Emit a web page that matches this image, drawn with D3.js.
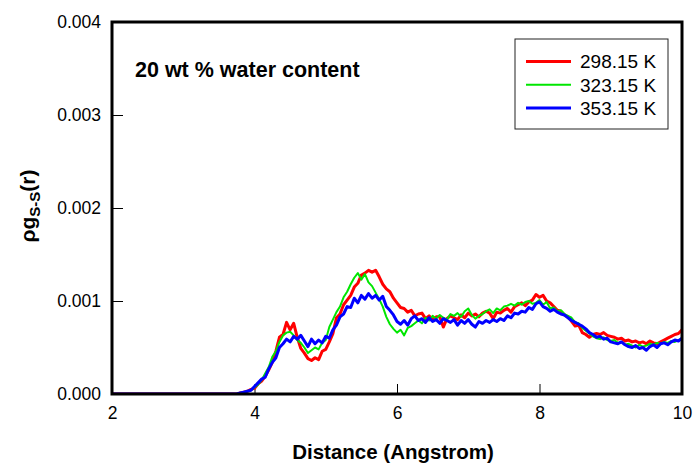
<!DOCTYPE html>
<html>
<head>
<meta charset="utf-8">
<script src="https://cdn.jsdelivr.net/npm/d3@7"></script>
<style>
  body { margin: 0; background: #fff; }
  svg { font-family: "Liberation Sans", Arial, sans-serif; }
</style>
</head>
<body>
<div class="chart"></div>
<script>
// DATA ------------------------------------
// g values are given in units of 1e-4 (i.e. 6.1 -> 0.00061)
const unit = 1e-4;
// sample positions: r = 2 (start of flat zero part), then 3.75 ... 10 every 0.05
const rValues = [2].concat(d3.range(0, 126).map(i => +(3.75 + i * 0.05).toFixed(2)));

const temps = ["298.15 K", "323.15 K", "353.15 K"];
const colors = ["#ff0000", "#00e600", "#0000ff"];
const widths = [3, 2, 3];

const g298 = [0,
  0, 0.1, 0.2, 0.3, 0.5, 0.6, 1.1, 1.4, 1.9, 2.6,
  3.4, 4.6, 6.1, 6.4, 7.7, 6.9, 7.6, 6.1, 4.9, 4.4,
  3.8, 3.6, 3.9, 3.7, 4.6, 4.8, 5.6, 6.5, 8.2, 8.6,
  9.6, 10.1, 10.6, 11.5, 11.9, 12.8, 13.0, 13.3, 13.1, 13.3,
  12.6, 11.8, 11.3, 11.0, 10.3, 9.8, 9.3, 9.2, 8.8, 9.0,
  8.4, 8.6, 8.7, 8.1, 8.4, 8.0, 8.3, 8.3, 7.2, 8.1,
  8.4, 8.2, 8.0, 8.5, 8.2, 8.7, 8.4, 8.6, 8.3, 8.7,
  8.9, 8.7, 8.1, 8.8, 8.7, 9.0, 9.2, 8.8, 9.4, 9.6,
  9.8, 9.5, 9.9, 10.1, 10.7, 10.4, 10.6, 10.0, 9.8, 9.4,
  9.0, 8.9, 8.5, 8.3, 7.8, 7.3, 7.4, 6.6, 6.4, 6.1,
  6.4, 6.5, 6.4, 6.6, 6.3, 6.2, 6.1, 5.9, 6.0, 5.7,
  5.8, 5.6, 5.7, 5.5, 5.6, 5.4, 5.7, 5.5, 5.4, 5.6,
  5.8, 6.0, 6.2, 6.4, 6.5, 6.9];

const g323 = [0,
  0, 0.1, 0.2, 0.3, 0.4, 0.7, 1.0, 1.5, 2.2, 2.9,
  4.0, 4.6, 5.6, 6.3, 6.6, 6.7, 6.3, 5.8, 5.5, 5.0,
  4.4, 4.7, 5.0, 4.8, 5.5, 5.8, 7.2, 8.0, 8.8, 9.4,
  10.4, 11.0, 11.8, 12.5, 13.0, 12.3, 12.9, 12.0, 11.6, 10.9,
  10.2, 9.4, 8.3, 7.5, 7.0, 6.6, 6.9, 6.3, 7.1, 7.3,
  7.6, 7.9, 7.6, 8.2, 7.9, 8.4, 8.1, 8.5, 8.2, 8.0,
  8.6, 8.4, 8.7, 8.3, 8.9, 9.2, 8.5, 8.1, 8.4, 8.6,
  8.9, 9.1, 8.7, 9.2, 9.0, 9.4, 9.5, 9.7, 9.5, 9.8,
  9.6, 9.9, 10.0, 9.7, 9.8, 10.1, 9.6, 9.9, 9.2, 9.3,
  8.9, 9.0, 8.6, 8.4, 8.2, 7.7, 7.6, 7.1, 6.8, 6.5,
  6.2, 6.0, 5.9, 6.1, 5.8, 5.7, 5.8, 5.5, 5.6, 5.3,
  5.4, 5.2, 5.0, 5.3, 5.1, 5.2, 5.4, 5.3, 5.5, 5.4,
  5.6, 5.5, 5.7, 5.6, 5.8, 5.9];

const g353 = [0,
  0, 0.1, 0.2, 0.3, 0.4, 0.8, 1.2, 1.6, 1.8, 2.7,
  3.4, 3.9, 5.0, 5.4, 5.9, 5.6, 6.2, 5.9, 6.3, 5.7,
  5.1, 5.9, 5.4, 5.8, 5.5, 6.2, 6.0, 6.9, 7.4, 8.3,
  8.6, 9.4, 9.3, 10.3, 9.8, 10.6, 10.2, 10.8, 10.3, 10.6,
  10.1, 10.5, 9.4, 9.0, 8.5, 7.8, 7.5, 7.9, 7.4, 8.1,
  8.4, 7.9, 8.1, 7.7, 8.2, 7.8, 8.0, 7.6, 8.1, 7.9,
  7.7, 8.0, 7.4, 7.9, 7.6, 8.0, 7.5, 7.2, 7.8, 7.6,
  7.9, 7.7, 8.0, 7.8, 8.1, 7.9, 8.4, 8.2, 8.7, 8.6,
  8.9, 8.8, 9.3, 9.1, 9.7, 9.9, 9.4, 9.2, 8.9, 9.1,
  8.8, 8.6, 8.5, 8.2, 7.9, 7.7, 7.5, 7.3, 7.0, 6.6,
  6.4, 6.1, 6.2, 5.9, 6.0, 5.6, 5.5, 5.4, 5.6, 5.3,
  5.1, 5.0, 5.2, 4.9, 5.0, 4.7, 5.1, 5.3, 5.0, 5.4,
  5.5, 5.3, 5.6, 5.8, 5.7, 6.0];

const xTicks = [2, 4, 6, 8, 10];
const yTicks = [0, 0.001, 0.002, 0.003, 0.004];

// CHART -----------------------------------
const margin = ({top: 22, right: 13, bottom: 72, left: 112});
const width = 695 - margin.left - margin.right,
      height = 466 - margin.top - margin.bottom;

const svg = d3.select(".chart")
    .append("svg")
    .attr("width", 695)
    .attr("height", 466)
    .append("g")
    .attr("transform", "translate(" + margin.left + "," + margin.top + ")");

const xScale = d3.scaleLinear().domain([2, 10]).range([0, width]);
const yScale = d3.scaleLinear().domain([0, 0.004]).range([height, 0]);

// axes (ticks point inward)
const xAxis = d3.axisBottom(xScale)
    .tickValues(xTicks)
    .tickSize(-10)
    .tickPadding(13)
    .tickFormat(d3.format("d"));

const yAxis = d3.axisLeft(yScale)
    .tickValues(yTicks)
    .tickSize(-11)
    .tickPadding(11)
    .tickFormat(d3.format(".3f"));

const xAxisGroup = svg.append("g")
    .attr("class", "axis x-axis")
    .attr("transform", "translate(0," + height + ")")
    .call(xAxis);

const yAxisGroup = svg.append("g")
    .attr("class", "axis y-axis")
    .call(yAxis);

svg.selectAll(".axis .domain").remove();
svg.selectAll(".axis text")
    .attr("font-size", 17.5)
    .attr("font-family", "Liberation Sans, Arial, sans-serif")
    .attr("fill", "#000");
svg.selectAll(".axis line").attr("stroke", "#000").attr("stroke-width", 1);

// lines
const line = d3.line()
    .x(d => xScale(d.r))
    .y(d => yScale(d.g));

const series = [g298, g323, g353].map((vals, i) => ({
    name: temps[i],
    color: colors[i],
    w: widths[i],
    values: vals.map((v, j) => ({r: rValues[j], g: v * unit}))
}));

svg.append("defs").append("clipPath").attr("id", "clip")
    .append("rect").attr("width", width).attr("height", height + 2).attr("y", -1);

svg.append("g")
    .attr("clip-path", "url(#clip)")
    .selectAll(".series")
    .data(series)
    .enter()
    .append("path")
    .attr("class", "series")
    .attr("fill", "none")
    .attr("stroke", d => d.color)
    .attr("stroke-width", d => d.w)
    .attr("stroke-linejoin", "round")
    .attr("d", d => line(d.values));

// frame
svg.append("rect")
    .attr("width", width)
    .attr("height", height)
    .attr("fill", "none")
    .attr("stroke", "#000")
    .attr("stroke-width", 3);

// annotation
svg.append("text")
    .attr("x", 23)
    .attr("y", 55)
    .attr("font-size", 21.5)
    .attr("font-weight", "bold")
    .text("20 wt % water content");

// legend
const legend = svg.append("g").attr("transform", "translate(403,17)");
legend.append("rect")
    .attr("width", 153)
    .attr("height", 90)
    .attr("fill", "#fff")
    .attr("stroke", "#222")
    .attr("stroke-width", 1);

const items = legend.selectAll(".item")
    .data(series)
    .enter()
    .append("g")
    .attr("class", "item")
    .attr("transform", (d, i) => "translate(0," + (22.5 + i * 23.3) + ")");

items.append("line")
    .attr("x1", 11).attr("x2", 56)
    .attr("stroke", d => d.color)
    .attr("stroke-width", d => d.w);

items.append("text")
    .attr("x", 65)
    .attr("dy", "0.36em")
    .attr("font-size", 19)
    .text(d => d.name);

// axis titles
svg.append("text")
    .attr("x", width / 2 - 4)
    .attr("y", height + 65)
    .attr("text-anchor", "middle")
    .attr("font-size", 20.5)
    .attr("font-weight", "bold")
    .text("Distance (Angstrom)");

const ylab = svg.append("text")
    .attr("transform", "translate(-77," + (height / 2 - 2) + ") rotate(-90)")
    .attr("text-anchor", "middle")
    .attr("font-size", 21)
    .attr("font-weight", "bold");
ylab.append("tspan").text("ρg");
ylab.append("tspan").attr("font-size", 15).attr("dy", 5).text("S-S");
ylab.append("tspan").attr("dy", -5).text("(r)");
</script>
</body>
</html>
